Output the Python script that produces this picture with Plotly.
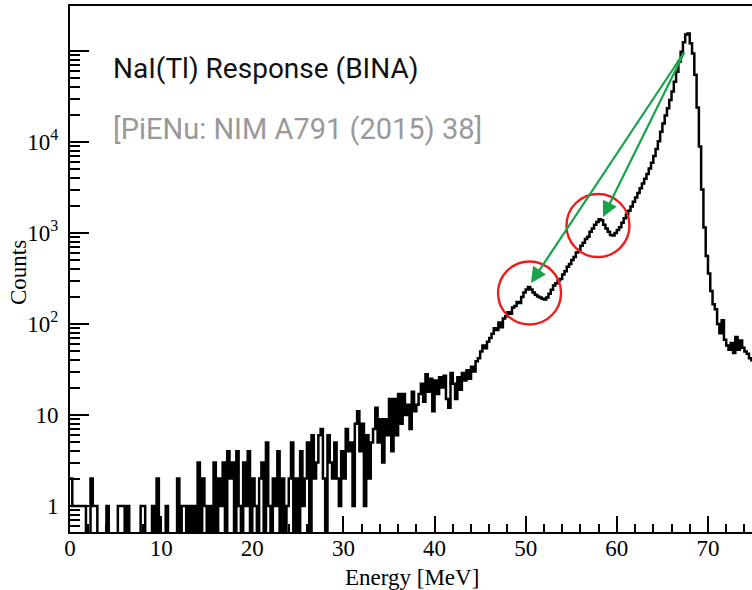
import math
import plotly.graph_objects as go

# ---------------- data ----------------
bin_width = 0.25  # MeV
counts = [
    2, 1, 1, 1, 1, 1, 1, 0, 0, 2,            # 0 - 2.5
    1, 1, 0, 0, 0, 0, 1, 0, 0, 0,            # 2.5 - 5
    0, 1, 1, 1, 0, 1, 0, 0, 0, 0,            # 5 - 7.5
    0, 1, 1, 0, 0, 0, 1, 0, 2, 0,            # 7.5 - 10
    0, 0, 1, 0, 0, 0, 0, 2, 0, 1,            # 10 - 12.5
    1, 0, 1, 0, 1, 0, 3, 0, 2, 1,            # 12.5 - 15
    0, 1, 0, 3, 0, 2, 1, 3, 0, 4,            # 15 - 17.5
    2, 3, 0, 4, 1, 0, 3, 1, 4, 0,            # 17.5 - 20
    2, 1, 0, 2, 3, 0, 5, 1, 0, 2,            # 20 - 22.5
    1, 4, 0, 2, 0, 1, 2, 5, 0, 2,            # 22.5 - 25
    0, 4, 1, 2, 5, 0, 6, 2, 3, 6,            # 25 - 27.5
    7, 2, 0, 6, 3, 2, 5, 2, 1, 4,            # 27.5 - 30
    2, 7, 4, 5, 1, 8, 11, 4, 8, 1,           # 30 - 32.5
    6, 2, 5, 7, 12, 5, 9, 3, 9, 6,           # 32.5 - 35
    15, 4, 15, 6, 17, 8, 17, 10, 13, 7,      # 35 - 37.5
    18, 11, 13, 17, 22, 14, 28, 18, 25, 11,  # 37.5 - 40
    24, 17, 26, 20, 27, 15, 12, 29, 22, 15,  # 40 - 42.5
    26, 19, 29, 24, 31, 25, 34, 30, 39, 42,  # 42.5 - 45
    50, 58, 54, 64, 70, 78, 90, 86, 104, 92,                 # 45 - 47.5
    115, 122, 135, 130, 152, 158, 175, 170, 198, 222,        # 47.5 - 50
    240, 255, 240, 222, 210, 200, 195, 190, 186, 195,        # 50 - 52.5
    215, 238, 265, 280, 300, 312, 350, 380, 425, 455,        # 52.5 - 55
    505, 545, 610, 650, 725, 780, 860, 910, 1030, 1120,      # 55 - 57.5
    1230, 1320, 1420, 1380, 1230, 1120, 1030, 950, 940, 1000,  # 57.5 - 60
    1080, 1160, 1300, 1450, 1600, 1760, 1950, 2200, 2450, 2750,  # 60 - 62.5
    3100, 3500, 3950, 4450, 5100, 5900, 7000, 8400, 10200, 13000,  # 62.5 - 65
    16000, 19500, 23500, 29000, 36000, 46000, 59000, 76000, 98000, 125000,  # 65 - 67.5
    152000, 156000, 122000, 94000, 55000, 24000, 8900, 3000, 1150, 560,  # 67.5 - 70
    360, 230, 165, 145, 100, 79, 110, 67, 58, 52,            # 70 - 72.5
    62, 48, 72, 52, 66, 55, 50, 47, 42, 40,                  # 72.5 - 75
]

x_tick_vals = [0, 10, 20, 30, 40, 50, 60, 70]
y_tick_vals = [1, 10, 100, 1000, 10000, 100000]
y_tick_text = ["1", "10", "10<sup>2</sup>", "10<sup>3</sup>", "10<sup>4</sup>", ""]

# annotation anchors (energy [MeV], counts)
circle_energy = [50.42, 57.93]
circle_counts = [10 ** 2.341, 10 ** 3.082]
circle_radius_px = 31.5
arrow_tail = (67.48, 1.0e5)
arrow_head_energy = [50.58, 58.48]
arrow_head_counts = [10 ** 2.451, 10 ** 3.176]

label_main = "NaI(Tl) Response (BINA)"
label_ref = "[PiENu: NIM A791 (2015) 38]"

# ---------------- figure ----------------
x_range = [0, 74.83]
y_range_log = [-0.2857, 5.4945]

edges = [i * bin_width for i in range(len(counts) + 1)]
y_min_disp = 0.1  # empty bins drawn down below the axis floor
y_plot = [c if c > 0 else y_min_disp for c in counts]
y_plot = y_plot + [y_plot[-1]]

y_minor = [m * 10 ** d for d in range(-1, 5) for m in range(2, 10) if m * 10 ** d >= 0.6]
x_minor = [v for v in range(0, 76, 2) if v % 10 != 0]

fig = go.Figure()
fig.add_trace(go.Scatter(
    x=edges, y=y_plot, mode="lines", line=dict(color="black", width=2.5, shape="hv"),
    hoverinfo="skip", showlegend=False,
))

W, H = 752, 590
ml, mr, mt, mb = 70, 0, 6, 58
pw = W - ml - mr
ph = H - mt - mb

serif = "Liberation Serif, Times New Roman, serif"
sans = "Roboto, Liberation Sans, sans-serif"

fig.update_layout(
    width=W, height=H,
    margin=dict(l=ml, r=mr, t=mt, b=mb, pad=0),
    paper_bgcolor="white", plot_bgcolor="white",
    showlegend=False,
    xaxis=dict(
        range=x_range, showgrid=False, zeroline=False,
        showline=True, linecolor="black", linewidth=2, mirror=True,
        ticks="inside", ticklen=16, tickwidth=2, tickcolor="black",
        tickvals=x_tick_vals, ticktext=[str(v) for v in x_tick_vals],
        tickfont=dict(family=serif, size=23, color="black"),
        ticklabelstandoff=-6,
        minor=dict(ticks="inside", ticklen=8, tickwidth=1.6, tickcolor="black", tickvals=x_minor),
    ),
    yaxis=dict(
        type="log", range=y_range_log, showgrid=False, zeroline=False,
        showline=True, linecolor="black", linewidth=2, mirror=False,
        ticks="inside", ticklen=19, tickwidth=2, tickcolor="black",
        tickvals=y_tick_vals, ticktext=y_tick_text,
        tickfont=dict(family=serif, size=23, color="black"),
        ticklabelstandoff=5,
        minor=dict(ticks="inside", ticklen=10, tickwidth=1.6, tickcolor="black", tickvals=y_minor),
    ),
)


def px2paper_x(px):
    return (px - ml) / pw


def px2paper_y(py):
    return 1 - (py - mt) / ph


annotations = [
    dict(text="Energy [MeV]", xref="paper", yref="paper", x=px2paper_x(412), y=px2paper_y(577),
         xanchor="center", yanchor="middle", showarrow=False,
         font=dict(family=serif, size=23, color="black")),
    dict(text="Counts", xref="paper", yref="paper", x=px2paper_x(18), y=px2paper_y(273),
         xanchor="center", yanchor="middle", showarrow=False, textangle=-90,
         font=dict(family=serif, size=23, color="black")),
    dict(text=label_main, xref="paper", yref="paper", x=px2paper_x(111), y=px2paper_y(69),
         xanchor="left", yanchor="middle", showarrow=False,
         font=dict(family=sans, size=28, color="#111111")),
    dict(text=label_ref, xref="paper", yref="paper", x=px2paper_x(111), y=px2paper_y(129),
         xanchor="left", yanchor="middle", showarrow=False,
         font=dict(family=sans, size=29, color="#999999")),
]
for ex, cy in zip(arrow_head_energy, arrow_head_counts):
    annotations.append(dict(
        x=ex, y=math.log10(cy), xref="x", yref="y",
        ax=arrow_tail[0], ay=math.log10(arrow_tail[1]), axref="x", ayref="y",
        text="", showarrow=True, arrowhead=2, arrowsize=1.4, arrowwidth=2.2,
        arrowcolor="#17a34a", standoff=0, startstandoff=0,
    ))
fig.update_layout(annotations=annotations)

# circles: radius given in pixels, converted through the axis scales
px_per_mev = pw / (x_range[1] - x_range[0])
px_per_decade = ph / (y_range_log[1] - y_range_log[0])
dx = circle_radius_px / px_per_mev
dlog = circle_radius_px / px_per_decade
shapes = []
for ex, cy in zip(circle_energy, circle_counts):
    lc = math.log10(cy)
    shapes.append(dict(
        type="circle", xref="x", yref="y",
        x0=ex - dx, x1=ex + dx, y0=10 ** (lc - dlog), y1=10 ** (lc + dlog),
        line=dict(color="#ee1c1c", width=2.4),
    ))
fig.update_layout(shapes=shapes)

fig.write_html("out.html")
